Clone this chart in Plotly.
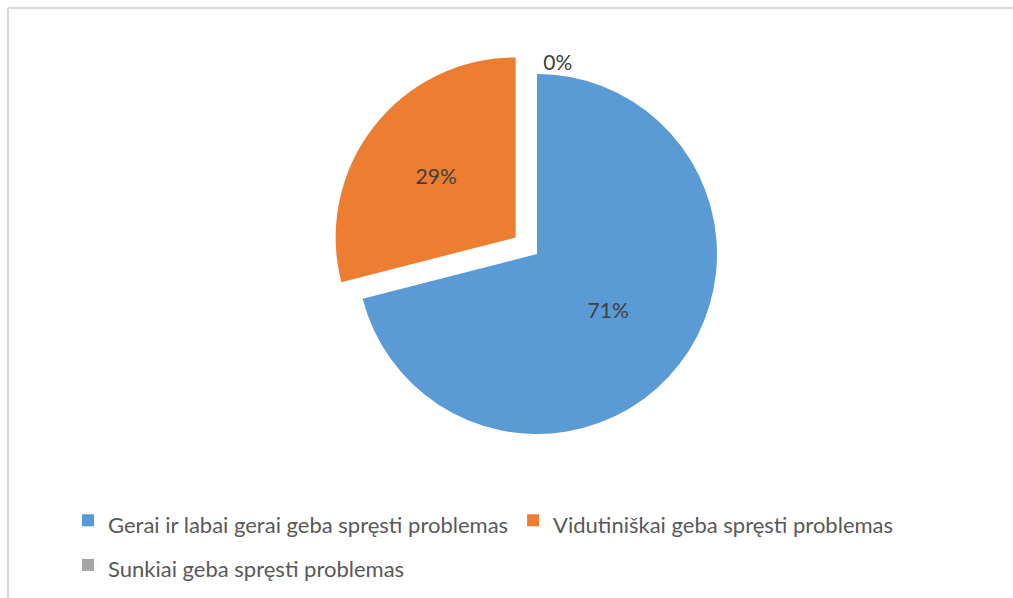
import plotly.graph_objects as go

labels = ["Gerai ir labai gerai geba spręsti problemas",
          "Vidutiniškai geba spręsti problemas",
          "Sunkiai geba spręsti problemas"]
values = [71, 29, 0]
colors = ["#5B9BD5", "#ED7D31", "#A5A5A5"]
pulls = [0, 0.15, 0]

W, H = 1013, 598
cx, cy, R = 537, 254, 180
ext = R * 1.15
FONT = "Lato, Noto Sans, sans-serif"

legend_labels = [f"<span style='font-size:22px'>{t}</span>" for t in labels]

fig = go.Figure(go.Pie(
    labels=legend_labels, values=values, sort=False, direction="clockwise", rotation=0,
    pull=pulls, marker=dict(colors=colors, line=dict(width=0)),
    textinfo="percent", texttemplate="%{percent:.0%}",
    textposition=["inside", "inside", "outside"],
    insidetextorientation="horizontal",
    textfont=dict(family=FONT, size=21, color="#404040"),
    domain=dict(x=[(cx - 300) / W, (cx + 300) / W],
                y=[1 - (cy + ext) / H, 1 - (cy - ext) / H]),
    showlegend=True, hovertext=labels, hoverinfo="text+percent",
))

fig.update_layout(
    width=W, height=H,
    margin=dict(l=0, r=0, t=0, b=0, pad=0, autoexpand=False),
    paper_bgcolor="white", plot_bgcolor="white",
    font=dict(family=FONT, size=18, color="#595959"),
    legend=dict(orientation="h", x=68 / W, xanchor="left", y=1 - 493 / H, yanchor="top",
                font=dict(family=FONT, size=32, color="#595959"), traceorder="normal"),
    shapes=[
        dict(type="line", xref="paper", yref="paper", x0=8 / W, x1=1, y0=1 - 8 / H, y1=1 - 8 / H,
             line=dict(color="#D9D9D9", width=2)),
        dict(type="line", xref="paper", yref="paper", x0=8 / W, x1=8 / W, y0=0, y1=1 - 8 / H,
             line=dict(color="#D9D9D9", width=2)),
    ],
)

fig.write_html("out.html", config={"displayModeBar": False},
               post_script="document.body.style.margin='0';document.body.style.overflow='hidden';")
